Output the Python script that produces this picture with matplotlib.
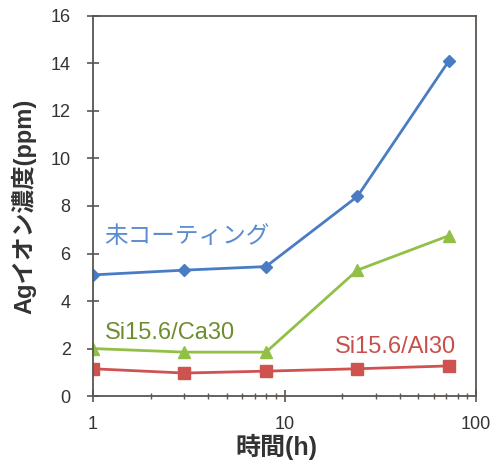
import matplotlib
matplotlib.use('Agg')
import matplotlib.pyplot as plt
from matplotlib.ticker import LogLocator, NullFormatter, FixedLocator

plt.rcParams['font.family'] = ['Liberation Sans', 'Noto Sans CJK JP']

# elution time (h) and Ag ion concentration (ppm)
hours = [1, 3, 8, 24, 72]
uncoated = [5.1, 5.3, 5.45, 8.4, 14.1]
si_ca = [2.0, 1.85, 1.85, 5.3, 6.75]
si_al = [1.15, 0.97, 1.05, 1.15, 1.27]

labels = ['未コーティング', 'Si15.6/Ca30', 'Si15.6/Al30']
yticks = [0, 2, 4, 6, 8, 10, 12, 14, 16]

fig = plt.figure(figsize=(4.97, 4.66), dpi=100)
ax = fig.add_axes([0.187, 0.150, 0.771, 0.816])

ax.plot(hours, uncoated, color='#4A7CC4', marker='D', markersize=6.5, lw=2)
ax.plot(hours, si_ca, color='#92C047', marker='^', markersize=8.5, lw=2)
ax.plot(hours, si_al, color='#CE5350', marker='s', markersize=9, lw=2)

ax.set_xscale('log')
ax.set_xlim(1, 100)
ax.set_ylim(0, 16)
ax.yaxis.set_major_locator(FixedLocator(yticks))
ax.xaxis.set_major_locator(FixedLocator([1, 10, 100]))
ax.xaxis.set_major_formatter(plt.FixedFormatter(['1', '10', '100']))
ax.xaxis.set_minor_locator(LogLocator(base=10, subs=range(2, 10)))
ax.xaxis.set_minor_formatter(NullFormatter())

for s in ax.spines.values():
    s.set_color('#5a5550')
    s.set_linewidth(1.3)
ax.tick_params(axis='both', which='major', direction='inout', length=8,
               width=1.2, color='#5a5550', labelsize=13, labelcolor='#333333')
ax.tick_params(axis='x', which='minor', direction='inout', length=5,
               width=1, color='#5a5550')
ax.tick_params(axis='x', which='major', pad=10)
ax.tick_params(axis='y', which='major', pad=12)

ax.set_xlabel('時間(h)', fontsize=18, fontweight='bold', color='#333333', labelpad=2)
ax.xaxis.set_label_coords(0.48, -0.1)
ax.xaxis.label.set_va('top')
ax.set_ylabel('Agイオン濃度(ppm)', fontsize=17, fontweight='semibold',
              color='#333333', labelpad=10)

ax.text(1.15, 6.7, labels[0], color='#5B8CD0', fontsize=17, va='center', ha='left')
ax.text(1.15, 2.65, labels[1], color='#6E8E2E', fontsize=17, va='center', ha='left')
ax.text(79, 2.05, labels[2], color='#C8504C', fontsize=17, va='center', ha='right')

fig.savefig('out.png', dpi=100)
